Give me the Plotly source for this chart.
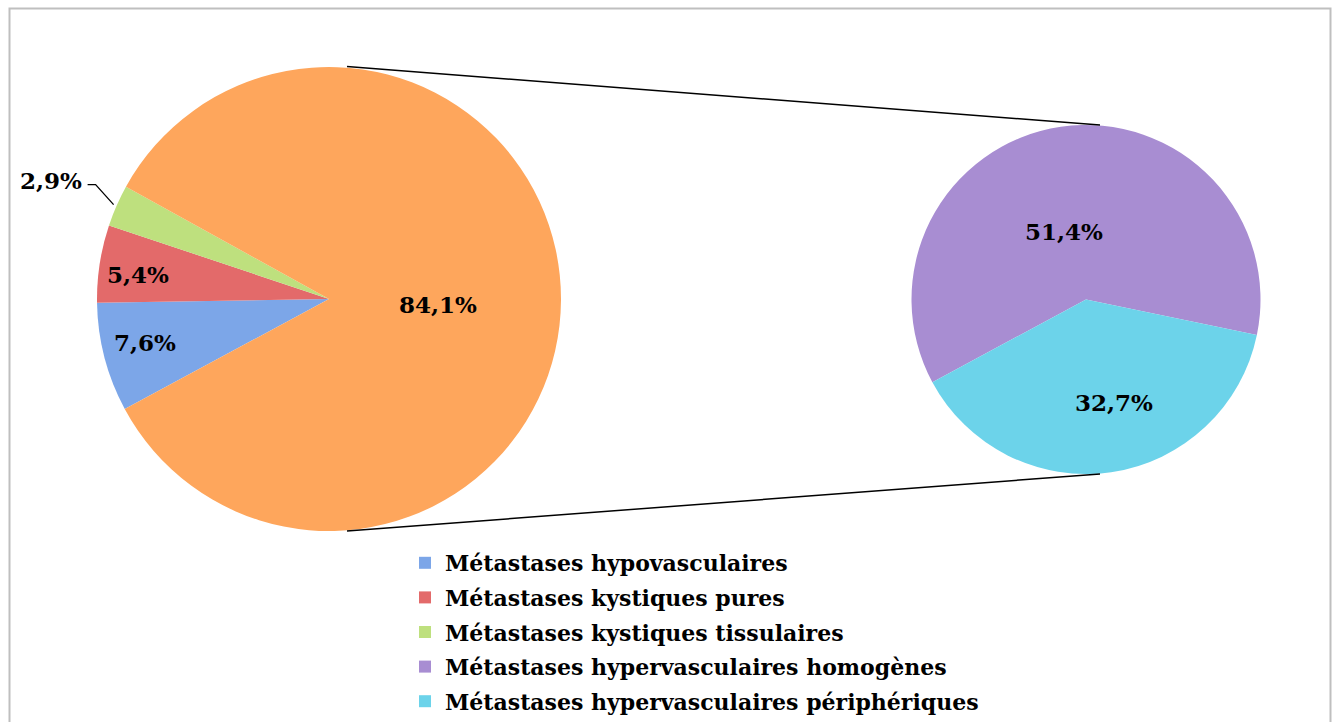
import math
import plotly.graph_objects as go

# ---- data ----
main_labels = ["Métastases hypovasculaires", "Métastases kystiques pures",
               "Métastases kystiques tissulaires", "Métastases hypervasculaires"]
main_values = [7.6, 5.4, 2.9, 84.1]
main_colors = ["#7CA6E8", "#E36A6A", "#BEE07E", "#FEA65C"]

sub_labels = ["Métastases hypervasculaires homogènes",
              "Métastases hypervasculaires périphériques"]
sub_values = [51.4, 32.7]
sub_colors = ["#A88DD2", "#6CD3EA"]

# legend entries (the aggregated orange slice is not listed)
legend_labels = main_labels[:3] + sub_labels
legend_colors = main_colors[:3] + sub_colors

W, H = 1337, 722
FONT = "DejaVu Serif"
LABEL_SIZE = 23

def px(x):
    return x / W

def py(y):
    return 1 - y / H

# layout geometry (pixels)
L_CX, L_CY, L_R = 329, 299, 232
R_CX, R_CY, R_R = 1086, 299.5, 174.5
ROT = 241.7  # first slice start, clockwise from 12 o'clock

# label placement style: (radial fraction, angle offset in degrees) per slice
main_label_pos = [(0.815, -1.4), (0.83, 1.5), None, (0.47, -2.5)]
sub_label_pos = [(0.41, 9.7), (0.61, 7.0)]

def fmt(v):
    return f"{v:.1f}".replace(".", ",") + "%"

def mid_angles(values):
    total = sum(values)
    start = 90 - ROT
    out, cum = [], 0.0
    for v in values:
        out.append(start - 360 * (cum + v / 2) / total)
        cum += v
    return out

fig = go.Figure()

fig.add_trace(go.Pie(
    labels=main_labels, values=main_values,
    marker=dict(colors=main_colors, line=dict(width=0)),
    sort=False, direction="clockwise", rotation=ROT,
    textinfo="none",
    domain=dict(x=[px(L_CX - L_R), px(L_CX + L_R)],
                y=[py(L_CY + L_R), py(L_CY - L_R)]),
    showlegend=False, hoverinfo="label+value",
))

fig.add_trace(go.Pie(
    labels=sub_labels, values=sub_values,
    marker=dict(colors=sub_colors, line=dict(width=0)),
    sort=False, direction="clockwise", rotation=ROT,
    textinfo="none",
    domain=dict(x=[px(R_CX - R_R), px(R_CX + R_R)],
                y=[py(R_CY + R_R), py(R_CY - R_R)]),
    showlegend=False, hoverinfo="label+value",
))

# legend entries
for i, (lab, col) in enumerate(zip(legend_labels, legend_colors)):
    fig.add_trace(go.Scatter(
        x=[None], y=[None], mode="markers", name=lab,
        marker=dict(symbol="square", size=12, color=col),
        legendgroup=f"g{i}", showlegend=True,
    ))

label_font = dict(family=FONT, size=LABEL_SIZE, color="black", weight="bold")
annotations = []
shapes = []

def add_labels(values, cx, cy, r, pos):
    for v, a, p in zip(values, mid_angles(values), pos):
        if p is None:
            continue
        frac, off = p
        ang = math.radians(a + off)
        annotations.append(dict(
            xref="paper", yref="paper",
            x=px(cx + frac * r * math.cos(ang)), y=py(cy - frac * r * math.sin(ang)),
            text=fmt(v), showarrow=False, xanchor="center", yanchor="middle",
            font=label_font,
        ))

add_labels(main_values, L_CX, L_CY, L_R, main_label_pos)
add_labels(sub_values, R_CX, R_CY, R_R, sub_label_pos)

# outside label for the small green slice, with bent leader line to its edge
g_mid = math.radians(mid_angles(main_values)[2])
ex = L_CX + L_R * math.cos(g_mid) - 3
ey = L_CY - L_R * math.sin(g_mid) - 1
shapes.append(dict(
    type="path", xref="paper", yref="paper",
    path=f"M {px(ex)},{py(ey)} L {px(ex - 18)},{py(ey - 20)} L {px(ex - 26)},{py(ey - 20)}",
    line=dict(color="black", width=1.3),
))
annotations.append(dict(
    xref="paper", yref="paper", x=px(ex - 30), y=py(ey - 24),
    text=fmt(main_values[2]), showarrow=False, xanchor="right", yanchor="middle",
    font=label_font,
))

shapes += [
    dict(type="rect", xref="paper", yref="paper",
         x0=px(9.5), x1=px(1330.5), y0=-0.05, y1=py(8.5),
         line=dict(color="#BFBFBF", width=2), fillcolor="rgba(0,0,0,0)", layer="below"),
    dict(type="line", xref="paper", yref="paper",
         x0=px(347), y0=py(L_CY - L_R - 0.5), x1=px(1100), y1=py(R_CY - R_R),
         line=dict(color="black", width=1.5)),
    dict(type="line", xref="paper", yref="paper",
         x0=px(347), y0=py(L_CY + L_R), x1=px(1100), y1=py(R_CY + R_R),
         line=dict(color="black", width=1.5)),
]

fig.update_layout(
    width=W, height=H, autosize=False,
    margin=dict(l=0, r=0, t=0, b=0),
    paper_bgcolor="white", plot_bgcolor="white",
    separators=", ",
    font=dict(family=FONT, size=LABEL_SIZE, color="black"),
    shapes=shapes, annotations=annotations,
    xaxis=dict(visible=False), yaxis=dict(visible=False),
    legend=dict(
        x=px(405), xanchor="left", y=0.0, yanchor="bottom",
        font=dict(family=FONT, size=22, color="black", weight="bold"),
        traceorder="grouped", tracegroupgap=3, itemclick=False,
        bgcolor="rgba(0,0,0,0)",
    ),
)

fig.write_html("out.html", config={"displayModeBar": False},
               post_script="document.body.style.margin='0';document.body.style.overflow='hidden';")
